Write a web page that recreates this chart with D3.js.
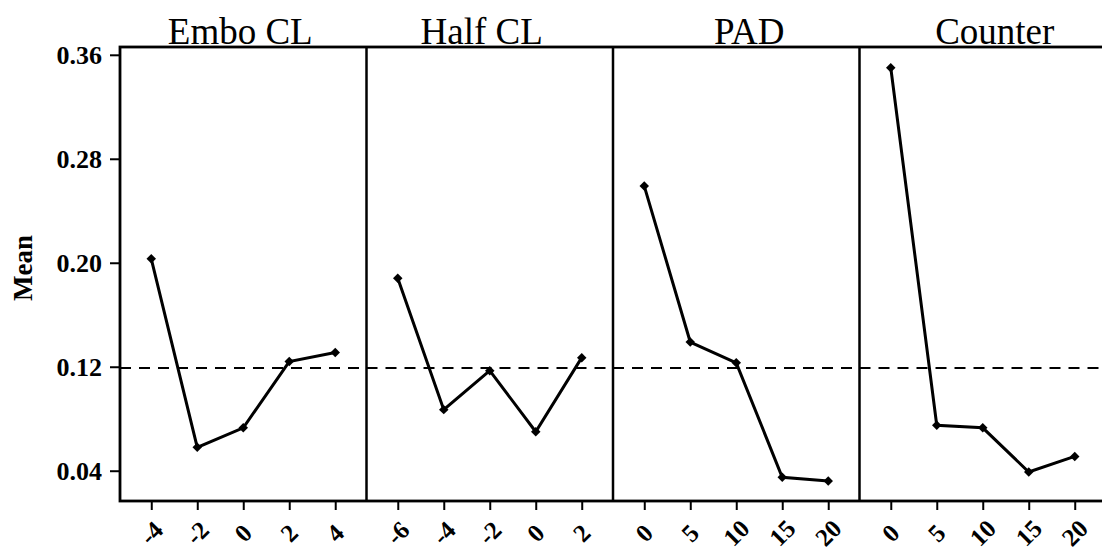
<!DOCTYPE html>
<html>
<head>
<meta charset="utf-8">
<script src="https://cdn.jsdelivr.net/npm/d3@7"></script>
<style>
  body { margin: 0; background: #fff; }
  svg { display: block; }
  text { font-family: "Liberation Serif", "Times New Roman", serif; fill: #000; }
</style>
</head>
<body>
<svg id="chart"></svg>
<script>
// factor names and levels
var factorNames = ['Embo CL', 'Half CL', 'PAD', 'Counter'];
var emboLevels = ['-4', '-2', '0', '2', '4'];
var halfLevels = ['-6', '-4', '-2', '0', '2'];
var padLevels = ['0', '5', '10', '15', '20'];
var counterLevels = ['0', '5', '10', '15', '20'];

// mean response at each level
var emboMeans = [0.203, 0.058, 0.073, 0.124, 0.131];
var halfMeans = [0.188, 0.087, 0.117, 0.070, 0.127];
var padMeans = [0.259, 0.139, 0.123, 0.035, 0.032];
var counterMeans = [0.350, 0.075, 0.073, 0.039, 0.051];

var grandMean = 0.119;
var yTicks = [0.04, 0.12, 0.20, 0.28, 0.36];

var width = 1102;
var height = 557;

// plot frame (right edge runs past the window, as in the original)
var plotLeft = 120, plotRight = 1106, plotTop = 47, plotBottom = 501;

var panels = [
	{name: factorNames[0], levels: emboLevels, means: emboMeans},
	{name: factorNames[1], levels: halfLevels, means: halfMeans},
	{name: factorNames[2], levels: padLevels, means: padMeans},
	{name: factorNames[3], levels: counterLevels, means: counterMeans}
];

var svg = d3.select('#chart')
	.attr('width', width)
	.attr('height', height);

var y = d3.scaleLinear()
	.domain([0.0167, 0.366])
	.range([plotBottom, plotTop]);

var panelX = d3.scaleBand()
	.domain(d3.range(panels.length))
	.range([plotLeft, plotRight])
	.paddingInner(0)
	.paddingOuter(0);

var pw = panelX.bandwidth();

// y axis
var yAxis = svg.append('g')
	.attr('transform', 'translate(' + plotLeft + ',0)')
	.call(d3.axisLeft(y).tickValues(yTicks).tickFormat(d3.format('.2f')).tickSize(10).tickPadding(8));
yAxis.select('.domain').remove();
yAxis.selectAll('line').attr('stroke', '#000').attr('stroke-width', 2);
yAxis.selectAll('text')
	.style('font-family', '"Liberation Serif", serif')
	.style('font-size', '26px')
	.style('font-weight', 'bold')
	.attr('fill', '#000');

svg.append('text')
	.attr('transform', 'translate(32,268) rotate(-90)')
	.attr('text-anchor', 'middle')
	.style('font-size', '27px')
	.style('font-weight', 'bold')
	.text('Mean');

// title offsets from panel centre, as drawn in the original
var titleShift = [-3, -8, 13, 12];

var marker = d3.symbol().type(d3.symbolSquare).size(45);

panels.forEach(function(p, i) {
	var x0 = panelX(i);
	var g = svg.append('g').attr('transform', 'translate(' + x0 + ',0)');

	var x = d3.scalePoint()
		.domain(p.levels)
		.range([0, pw])
		.padding(0.68);

	// x axis ticks and labels
	var xAxis = g.append('g')
		.attr('transform', 'translate(0,' + plotBottom + ')')
		.call(d3.axisBottom(x).tickSize(9).tickFormat(''));
	xAxis.select('.domain').remove();
	xAxis.selectAll('line').attr('stroke', '#000').attr('stroke-width', 2);

	g.selectAll('.xlab')
		.data(p.levels)
		.enter()
		.append('text')
		.attr('class', 'xlab')
		.attr('transform', function(d) {
			return 'translate(' + x(d) + ',533) rotate(-45)';
		})
		.attr('text-anchor', 'middle')
		.attr('dominant-baseline', 'central')
		.style('font-size', '25px')
		.style('font-weight', 'bold')
		.text(function(d) { return d; });

	// reference line at the grand mean
	g.append('line')
		.attr('x1', 0)
		.attr('x2', pw)
		.attr('y1', y(grandMean))
		.attr('y2', y(grandMean))
		.attr('stroke', '#000')
		.attr('stroke-width', 2)
		.attr('stroke-dasharray', '11,8');

	var line = d3.line()
		.x(function(d, j) { return x(p.levels[j]); })
		.y(function(d) { return y(d); });

	g.append('path')
		.datum(p.means)
		.attr('d', line)
		.attr('fill', 'none')
		.attr('stroke', '#000')
		.attr('stroke-width', 3);

	g.selectAll('.pt')
		.data(p.means)
		.enter()
		.append('path')
		.attr('class', 'pt')
		.attr('d', marker)
		.attr('transform', function(d, j) {
			return 'translate(' + x(p.levels[j]) + ',' + y(d) + ') rotate(45)';
		})
		.attr('fill', '#000');

	g.append('text')
		.attr('x', pw / 2 + titleShift[i])
		.attr('y', plotTop - 3)
		.attr('text-anchor', 'middle')
		.style('font-size', '37px')
		.text(p.name);

	// panel separator
	if (i > 0) {
		g.append('line')
			.attr('x1', 0).attr('x2', 0)
			.attr('y1', plotTop).attr('y2', plotBottom)
			.attr('stroke', '#000')
			.attr('stroke-width', 2.5);
	}
});

// frame
svg.append('rect')
	.attr('x', plotLeft)
	.attr('y', plotTop)
	.attr('width', plotRight - plotLeft)
	.attr('height', plotBottom - plotTop)
	.attr('fill', 'none')
	.attr('stroke', '#000')
	.attr('stroke-width', 2.8);
</script>
</body>
</html>
